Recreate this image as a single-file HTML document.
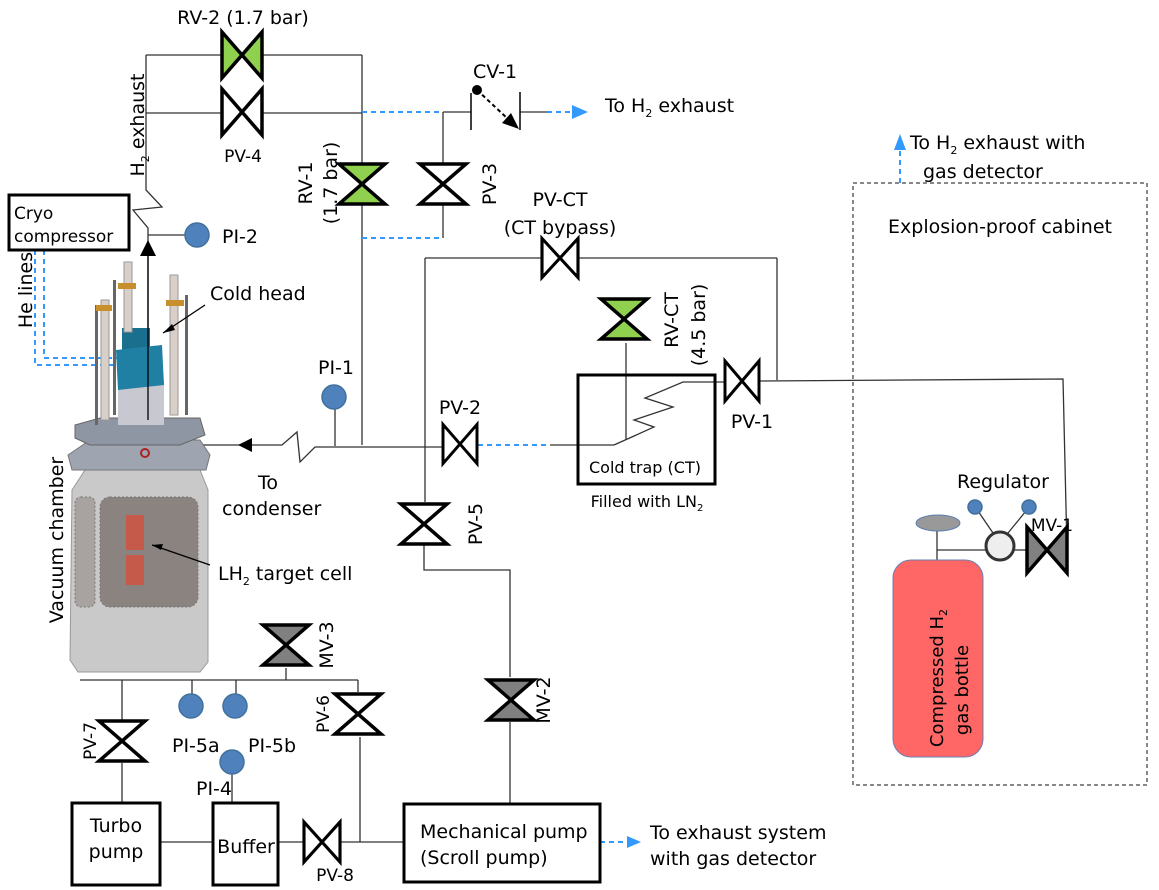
<!DOCTYPE html>
<html><head><meta charset="utf-8"><style>
html,body{margin:0;padding:0;background:#fff}
svg{display:block}
text{font-family:"DejaVu Sans","Liberation Sans",sans-serif;fill:#000}
</style></head><body>
<svg width="1159" height="890" viewBox="0 0 1159 890" xmlns="http://www.w3.org/2000/svg">
<defs>
<g id="bh"><path d="M-20,-23 L20,23 L20,-23 L-20,23 Z" stroke="#000" stroke-width="3.5" stroke-linejoin="miter"/></g>
<g id="bv"><path d="M-23,-20 L23,-20 L-23,20 L23,20 Z" stroke="#000" stroke-width="3.5" stroke-linejoin="miter"/></g>
</defs>
<g stroke="#333" stroke-width="1.3" fill="none">
<polyline points="146,55 146,190 162,207 133,210 148,228 148,420"/>
<line x1="148" y1="235" x2="185" y2="235"/>
<line x1="146" y1="55" x2="222" y2="55"/><line x1="263" y1="55" x2="362" y2="55"/>
<line x1="146" y1="113" x2="222" y2="113"/><line x1="263" y1="113" x2="362" y2="113"/>
<line x1="362" y1="55" x2="362" y2="445"/>
<line x1="443" y1="112" x2="443" y2="238"/>
<line x1="443" y1="112" x2="471" y2="112"/>
<line x1="520" y1="112" x2="547" y2="112"/>
<polyline points="160,405 160,445 240,445"/>
<polyline points="250,445 282,445 297,432 300,462 315,447 443,447"/>
<line x1="335" y1="409" x2="335" y2="446"/>
<line x1="425" y1="258" x2="425" y2="502"/>
<line x1="425" y1="258" x2="542" y2="258"/><line x1="578" y1="258" x2="777" y2="258"/>
<line x1="777" y1="258" x2="777" y2="380"/>
<line x1="550" y1="445" x2="614" y2="445"/>
<polyline points="614,445 654,427 634,420 673,407 645,398 683,382 725,382"/>
<line x1="626" y1="343" x2="626" y2="440"/>
<polyline points="758,381 1063,379 1067,550 1068,550"/>
<line x1="937" y1="550" x2="986" y2="550"/><line x1="1014" y1="550" x2="1027" y2="550"/>
<line x1="937" y1="528" x2="937" y2="562"/>
<line x1="978" y1="511" x2="993" y2="533"/><line x1="1026" y1="511" x2="1008" y2="533"/>
<polyline points="424,545 424,570 510,570 510,677"/>
<line x1="510" y1="722" x2="510" y2="803"/>
<line x1="80" y1="680" x2="358" y2="680"/>
<line x1="358" y1="680" x2="358" y2="692"/>
<line x1="286" y1="668" x2="286" y2="680"/>
<line x1="360" y1="737" x2="360" y2="842"/>
<line x1="192" y1="680" x2="192" y2="694"/><line x1="236" y1="680" x2="236" y2="694"/>
<line x1="122" y1="680" x2="122" y2="720"/><line x1="122" y1="763" x2="122" y2="802"/>
<line x1="232" y1="774" x2="232" y2="802"/>
<line x1="160" y1="842" x2="213" y2="842"/>
<line x1="278" y1="842" x2="304" y2="842"/><line x1="341" y1="842" x2="404" y2="842"/>
</g>
<g stroke="#3399ff" stroke-width="2" stroke-dasharray="5,4" fill="none">
<line x1="362" y1="112" x2="443" y2="112"/>
<line x1="362" y1="238" x2="443" y2="238"/>
<line x1="547" y1="112" x2="572" y2="112"/>
<line x1="478" y1="445" x2="550" y2="445"/>
<line x1="600" y1="842" x2="627" y2="842"/>
<line x1="900" y1="183" x2="900" y2="150"/>
<polyline points="35,250 35,365 122,365"/>
<polyline points="44,250 44,358 125,358"/>
</g>
<g fill="#3399ff"><path d="M572,105 L588,112 L572,119 Z"/><path d="M627,836 L641,842 L627,848 Z"/><path d="M894,150 L900,134 L906,150 Z"/></g>
<g stroke="#000" stroke-width="1.5"><line x1="471" y1="93" x2="471" y2="130"/><line x1="520" y1="92" x2="520" y2="130"/>
<line x1="477" y1="90" x2="508" y2="119" stroke-dasharray="4,3" stroke-width="2"/></g>
<circle cx="477" cy="90" r="5" fill="#000"/><path d="M502,123 L511,113 L519,129 Z" fill="#000"/>
<path d="M140,256 L148,240 L156,256 Z" fill="#000"/>
<path d="M252,438 L238,445 L252,452 Z" fill="#000"/>
<use href="#bh" x="242" y="55" fill="#8fd14f"/>
<use href="#bh" x="242" y="112" fill="#fff"/>
<use href="#bv" x="362" y="184" fill="#8fd14f"/>
<use href="#bv" x="443" y="184" fill="#fff"/>
<g transform="translate(560,258) scale(0.9,0.85)"><use href="#bh" fill="#fff"/></g>
<use href="#bv" x="624" y="319" fill="#8fd14f"/>
<g transform="translate(742,381) scale(0.85,0.87)"><use href="#bh" fill="#fff"/></g>
<g transform="translate(460,444) scale(0.85,0.85)"><use href="#bh" fill="#fff"/></g>
<use href="#bh" x="1047" y="550" fill="#808080"/>
<use href="#bv" x="424" y="524" fill="#fff"/>
<use href="#bv" x="511" y="700" fill="#808080"/>
<use href="#bv" x="286" y="645" fill="#808080"/>
<use href="#bv" x="358" y="714" fill="#fff"/>
<use href="#bv" x="122" y="741" fill="#fff"/>
<g transform="translate(322,842) scale(0.9,0.87)"><use href="#bh" fill="#fff"/></g>
<g fill="#4f81bd" stroke="#41719c" stroke-width="1.5">
<circle cx="197" cy="235" r="12"/><circle cx="334" cy="397" r="12"/>
<circle cx="191" cy="706" r="12"/><circle cx="235" cy="706" r="12"/><circle cx="232" cy="762" r="12"/>
<circle cx="975" cy="507" r="7"/><circle cx="1029" cy="507" r="7"/></g>
<g fill="none" stroke="#000" stroke-width="3">
<rect x="9" y="195" width="120" height="55"/>
<rect x="578" y="375" width="137" height="109"/>
<rect x="72" y="803" width="88" height="82"/>
<rect x="213" y="803" width="65" height="82"/>
<rect x="404" y="804" width="196" height="78"/>
</g>
<rect x="853" y="183" width="294" height="602" fill="none" stroke="#888" stroke-width="2" stroke-dasharray="4,3"/>
<circle cx="1000" cy="546" r="14" fill="#eee" stroke="#333" stroke-width="3"/>
<ellipse cx="938" cy="523" rx="22" ry="8" fill="#999" stroke="#5b7fb0"/>
<rect x="893" y="560" width="90" height="197" rx="18" fill="#ff6666" stroke="#6a7fb0"/>
<g>
<path d="M70,660 L72,490 L85,470 L200,470 L208,490 L208,662 L200,672 L78,672 Z" fill="#c9c9c9" stroke="#999"/>
<rect x="100" y="497" width="98" height="110" rx="10" fill="#8a8380" stroke="#777" stroke-dasharray="2,2"/>
<rect x="75" y="497" width="20" height="110" rx="6" fill="#a8a2a0" stroke="#777" stroke-dasharray="2,2"/>
<rect x="126" y="515" width="18" height="35" fill="#c65a4a"/><rect x="126" y="555" width="18" height="30" fill="#c65a4a"/>
<path d="M68,455 L90,440 L200,440 L210,455 L206,470 L72,470 Z" fill="#9ea4b0" stroke="#777"/>
<path d="M75,425 L100,418 L200,418 L205,435 L180,445 L90,445 L75,438 Z" fill="#8e95a3" stroke="#666"/>
<rect x="118" y="380" width="46" height="45" fill="#c8c8d0"/>
<rect x="122" y="328" width="28" height="25" fill="#1a6e8e"/>
<path d="M116,350 L162,345 L164,385 L118,390 Z" fill="#2080a4"/>
<g fill="#d8d0c8" stroke="#999"><rect x="101" y="300" width="8" height="120"/><rect x="124" y="262" width="8" height="70"/><rect x="170" y="275" width="8" height="140"/></g>
<g fill="#666"><rect x="95" y="305" width="3" height="120"/><rect x="185" y="295" width="3" height="120"/><rect x="113" y="280" width="3" height="135"/></g>
<g fill="#c8902c"><rect x="96" y="305" width="16" height="6"/><rect x="118" y="283" width="18" height="6"/><rect x="166" y="300" width="18" height="6"/></g>
<circle cx="145" cy="453" r="4" fill="none" stroke="#a22" stroke-width="2"/>
<line x1="148" y1="255" x2="148" y2="420" stroke="#000" stroke-width="1.3"/>
</g>
<g stroke="#000" stroke-width="1.3"><line x1="205" y1="305" x2="163" y2="333"/><line x1="210" y1="565" x2="152" y2="545"/></g>
<path d="M163,333 L172,324 L175,330 Z" fill="#000"/><path d="M152,545 L163,544 L161,550 Z" fill="#000"/>
<g font-size="19">
<text x="243" y="24" text-anchor="middle">RV-2 (1.7 bar)</text>
<text x="495" y="78" text-anchor="middle">CV-1</text>
<text x="605" y="112">To H<tspan font-size="11" dy="5">2</tspan><tspan dy="-5"> exhaust</tspan></text>
<text x="910" y="149">To H<tspan font-size="11" dy="5">2</tspan><tspan dy="-5"> exhaust with</tspan></text>
<text x="923" y="178">gas detector</text>
<text x="1000" y="233" text-anchor="middle">Explosion-proof cabinet</text>
<text x="560" y="206" text-anchor="middle">PV-CT</text>
<text x="560" y="234" text-anchor="middle">(CT bypass)</text>
<text x="222" y="243">PI-2</text>
<text x="210" y="300">Cold head</text>
<text x="318" y="374">PI-1</text>
<text x="460" y="414" text-anchor="middle">PV-2</text>
<text x="752" y="428" text-anchor="middle">PV-1</text>
<text x="1003" y="488" text-anchor="middle">Regulator</text>
<text x="258" y="489">To</text>
<text x="222" y="515">condenser</text>
<text x="218" y="580">LH<tspan font-size="11" dy="5">2</tspan><tspan dy="-5"> target cell</tspan></text>
<text x="172" y="752">PI-5a</text><text x="248" y="752">PI-5b</text>
<text x="196" y="795">PI-4</text>
<text x="116" y="832" text-anchor="middle">Turbo</text><text x="116" y="858" text-anchor="middle">pump</text>
<text x="246" y="853" text-anchor="middle">Buffer</text>
<text x="420" y="838">Mechanical pump</text><text x="420" y="864">(Scroll pump)</text>
<text x="650" y="839">To exhaust system</text><text x="650" y="865">with gas detector</text>
<text transform="translate(312,183) rotate(-90)" text-anchor="middle">RV-1</text>
<text transform="translate(337,183) rotate(-90)" text-anchor="middle">(1.7 bar)</text>
<text transform="translate(496,184) rotate(-90)" text-anchor="middle">PV-3</text>
<text transform="translate(678,320) rotate(-90)" text-anchor="middle">RV-CT</text>
<text transform="translate(705,325) rotate(-90)" text-anchor="middle">(4.5 bar)</text>
<text transform="translate(482,524) rotate(-90)" text-anchor="middle">PV-5</text>
<text transform="translate(550,700) rotate(-90)" text-anchor="middle">MV-2</text>
<text transform="translate(333,645) rotate(-90)" text-anchor="middle">MV-3</text>
<text transform="translate(32,290) rotate(-90)" text-anchor="middle">He lines</text>
<text transform="translate(63,540) rotate(-90)" text-anchor="middle">Vacuum chamber</text>
<text transform="translate(144,125) rotate(-90)" text-anchor="middle">H<tspan font-size="11" dy="5">2</tspan><tspan dy="-5"> exhaust</tspan></text>
</g>
<g font-size="17">
<text x="243" y="162" text-anchor="middle">PV-4</text>
<text x="14" y="219">Cryo</text><text x="14" y="242">compressor</text>
<text x="645" y="473" text-anchor="middle" font-size="16">Cold trap (CT)</text>
<text x="647" y="507" text-anchor="middle" font-size="16">Filled with LN<tspan font-size="10" dy="4">2</tspan></text>
<text x="1052" y="531" text-anchor="middle">MV-1</text>
<text x="335" y="881" text-anchor="middle">PV-8</text>
<text transform="translate(329,714) rotate(-90)" text-anchor="middle">PV-6</text>
<text transform="translate(96,741) rotate(-90)" text-anchor="middle">PV-7</text>
<text transform="translate(943,678) rotate(-90)" text-anchor="middle" font-size="18">Compressed H<tspan font-size="11" dy="4">2</tspan></text>
<text transform="translate(968,690) rotate(-90)" text-anchor="middle" font-size="18">gas bottle</text>
</g>
</svg>
</body></html>
